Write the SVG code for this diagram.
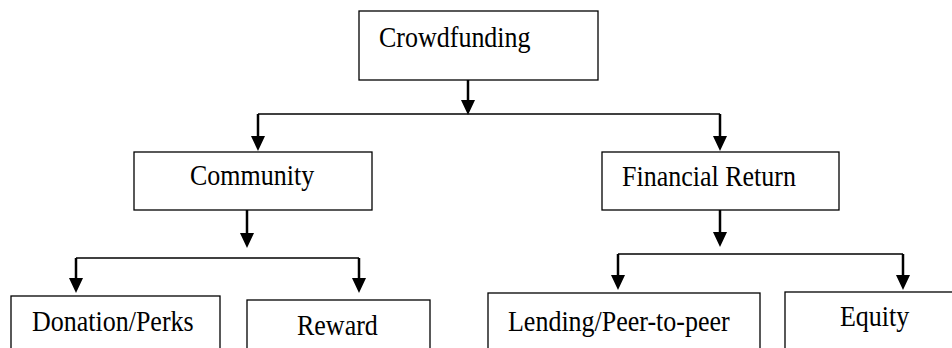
<svg xmlns="http://www.w3.org/2000/svg" width="952" height="348" viewBox="0 0 952 348">
<style>
.box{fill:#fff;stroke:#000;stroke-width:1.3}
.t{font-family:'Liberation Serif','Times New Roman',serif;font-size:26px;fill:#000}
.h{stroke:#000;stroke-width:1.5;fill:none}
.v{stroke:#000;stroke-width:2.5;fill:none}
.ah{fill:#000}
</style>
<rect width="952" height="348" fill="#fff"/>
<g id="crowdfunding"><rect class="box" x="359" y="11" width="239" height="69"/><text class="t" transform="translate(379,46.5) scale(1,1.15)">Crowdfunding</text></g>
<g id="community"><rect class="box" x="134" y="152" width="238" height="58"/><text class="t" transform="translate(190,185) scale(1,1.15)">Community</text></g>
<g id="financial"><rect class="box" x="602" y="152" width="237" height="58"/><text class="t" transform="translate(622,186) scale(1,1.15)">Financial Return</text></g>
<g id="donation"><rect class="box" x="11" y="296" width="209" height="60"/><text class="t" transform="translate(32,331) scale(1,1.15)">Donation/Perks</text></g>
<g id="reward"><rect class="box" x="247" y="300" width="183" height="60"/><text class="t" transform="translate(297,335) scale(1,1.15)">Reward</text></g>
<g id="lending"><rect class="box" x="488" y="293" width="272" height="60"/><text class="t" transform="translate(508,330.5) scale(1,1.15)">Lending/Peer-to-peer</text></g>
<g id="equity"><rect class="box" x="785" y="292" width="180" height="60"/><text class="t" transform="translate(840,326) scale(1,1.15)">Equity</text></g>
<g id="connectors">
<path class="v" d="M468,80V102"/><path class="ah" d="M461,100H475L468,115Z"/>
<path class="h" d="M258,114H720"/>
<path class="v" d="M258,114V138"/><path class="ah" d="M251,136H265L258,151Z"/>
<path class="v" d="M720,114V138"/><path class="ah" d="M713,136H727L720,151Z"/>
<path class="v" d="M247,210V235"/><path class="ah" d="M240,233H254L247,248Z"/>
<path class="h" d="M76,258H359"/>
<path class="v" d="M76,258V280"/><path class="ah" d="M69,278H83L76,293Z"/>
<path class="v" d="M359,258V280"/><path class="ah" d="M352,278H366L359,293Z"/>
<path class="v" d="M720,210V234"/><path class="ah" d="M713,232H727L720,247Z"/>
<path class="h" d="M618,254H903"/>
<path class="v" d="M618,254V277"/><path class="ah" d="M611,275H625L618,290Z"/>
<path class="v" d="M903,254V277"/><path class="ah" d="M896,275H910L903,290Z"/>
</g>
</svg>
